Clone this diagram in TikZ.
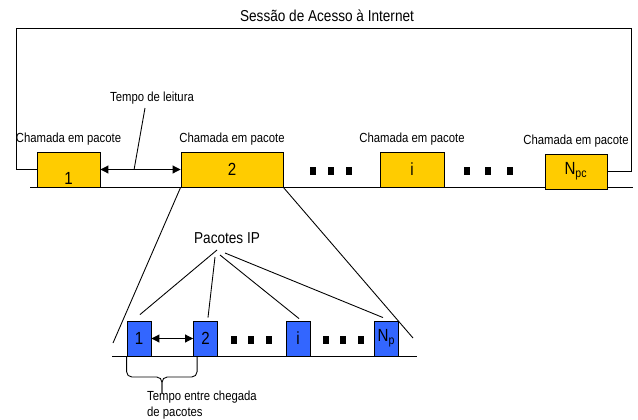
\documentclass[tikz,border=0pt]{standalone}
\usepackage{fontspec}
\setmainfont{Liberation Sans}[FakeStretch=0.86]
\usetikzlibrary{arrows.meta,calc}
\definecolor{callyellow}{RGB}{255,204,0}
\definecolor{pktblue}{RGB}{51,102,255}

\begin{document}
\begin{tikzpicture}[x=0.02cm, y=-0.02cm, line width=0.5pt,
  small/.style={font=\fontsize{7.5}{9}\selectfont},
  callbox/.style={rectangle, draw, fill=callyellow, inner sep=0pt, minimum height=0.7cm,
    font=\fontsize{10}{12}\selectfont, label={[small]above:Chamada em pacote}},
  pktbox/.style={rectangle, draw, fill=pktblue, inner sep=0pt, minimum width=0.48cm,
    minimum height=0.7cm, font=\fontsize{10}{12}\selectfont},
  dotsq/.style={rectangle, fill=black, inner sep=0pt, minimum width=0.13cm, minimum height=0.15cm},
  twoheads/.style={{Triangle[length=4.5pt,width=4.5pt]}-{Triangle[length=4.5pt,width=4.5pt]}}]
  \useasboundingbox (0,0) rectangle (638,419);
  % Session line and calls
  \node (title) [font=\fontsize{9}{11}\selectfont] at (327,16) {Sessão de Acesso à Internet};
  \coordinate (lineW) at (30,187);
  \coordinate (lineE) at (633,187);
  \draw (lineW) -- (lineE);
  \node (call1) [callbox, minimum width=1.26cm] at (68.5,169.5) {\raisebox{-8.4pt}[0pt][0pt]{1}};
  \node (call2) [callbox, minimum width=2.04cm] at (232,169.5) {2};
  \node (calli) [callbox, minimum width=1.28cm] at (412,169.5) {i};
  \node (callN) [callbox, minimum width=1.24cm] at (576,171.5) {N\textsubscript{pc}};
  \foreach \x [count=\k] in {313,331,349} \node (dotA\k) [dotsq] at (\x,171) {};
  \foreach \x [count=\k] in {467,488,510} \node (dotB\k) [dotsq] at (\x,171) {};
  % Session frame
  \coordinate (frameNW) at (16,28);
  \coordinate (frameNE) at (631,28);
  \draw (call1.west) -| (frameNW) -- (frameNE) |- (callN.east);
  % Reading time
  \draw[twoheads] (call1.east) -- (call2.west) coordinate[pos=0.42] (readpt);
  \node (readtime) [small] at (152,98) {Tempo de leitura};
  \draw ($(readtime)+(-7,10)$) -- (readpt);
  % Zoom into call 2
  \coordinate (zoomL) at (113,343);
  \coordinate (zoomR) at (413,338);
  \draw (call2.south west) -- (zoomL);
  \draw (call2.south east) -- (zoomR);
  % Packets
  \coordinate (pktW) at (112,356);
  \coordinate (pktE) at (417,356);
  \draw (pktW) -- (pktE);
  \node (pkt1) [pktbox] at (139,338.5) {1};
  \node (pkt2) [pktbox] at (205.5,338.5) {2};
  \node (pkti) [pktbox] at (298,338.5) {i};
  \node (pktN) [pktbox] at (386.5,338.5) {N\textsubscript{p}};
  \foreach \x [count=\k] in {234,251,269} \node (dotC\k) [dotsq] at (\x,340) {};
  \foreach \x [count=\k] in {326,343,361} \node (dotD\k) [dotsq] at (\x,340) {};
  \draw[twoheads] (pkt1.east) -- (pkt2.west);
  \node (iplabel) [font=\fontsize{9}{11}\selectfont] at (227,238) {Pacotes IP};
  \draw ($(iplabel)+(-10,12)$) -- ($(pkt1.north)+(1,-6)$);
  \draw ($(iplabel)+(-12,19)$) -- ($(pkt2.north)+(2.5,-3)$);
  \draw ($(iplabel)+(-7,17)$) -- ($(pkti.north)+(1,-2)$);
  \draw ($(iplabel)+(-2,15)$) -- ($(pktN.north)+(-3.5,-3)$);
  % Interarrival brace
  \coordinate (braceMid) at (162,377);
  \coordinate (braceTip) at (162,393);
  \draw[rounded corners=3pt] (pkt1.south west) |- (braceMid) -- (braceTip);
  \draw[rounded corners=3pt] ($(pkt2.south west)+(4,0)$) |- (braceMid) -- (braceTip);
  \node (gaplabel) [small, anchor=north west, align=left, inner sep=1pt] at (145,389) {Tempo entre chegada\\de pacotes};
\end{tikzpicture}
\end{document}
